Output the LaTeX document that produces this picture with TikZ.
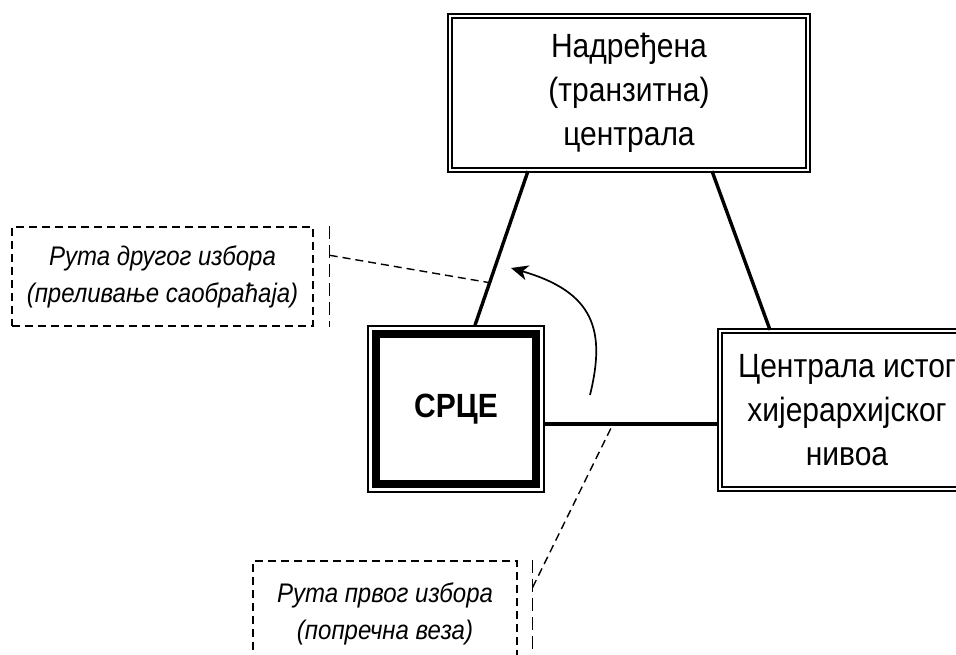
\documentclass[tikz,border=0pt]{standalone}
\usepackage{fontspec}
\usepackage{graphicx}
\setmainfont{Liberation Sans}
\usetikzlibrary{arrows.meta,calc}
\newcommand{\vtall}[1]{\scalebox{1}[1.12]{#1}}
\begin{document}
\begin{tikzpicture}[x=1pt,y=-1pt,
  dbl/.style={draw, line width=2.2pt, double=white, double distance=2.3pt, inner sep=0pt, align=center, font=\fontsize{30}{44}\selectfont},
  conn/.style={line width=3.4pt},
  callout/.style={draw, line width=1.4pt, dash pattern=on 8pt off 5pt, inner sep=0pt, align=center, font=\fontsize{24}{37}\selectfont\itshape},
  vbar/.style={line width=1.4pt, dash pattern=on 13pt off 6pt},
  leader/.style={line width=1.4pt, dash pattern=on 8pt off 5pt}]
\useasboundingbox (0,0) rectangle (956,655);
\clip (0,0) rectangle (956,655);
% main nodes
\node[dbl, minimum width=358pt, minimum height=154pt] (top) at (629,93) {\vtall{Надређена}\\\vtall{(транзитна)}\\\vtall{централа}};
\node[dbl, minimum width=254pt, minimum height=158pt] (same) at (847,410) {\vtall{Централа истог}\\\vtall{хијерархијског}\\\vtall{нивоа}};
\node[draw, line width=1.5pt, minimum width=176pt, minimum height=166pt, inner sep=0pt, font=\fontsize{30}{36}\selectfont\bfseries] (srce) at (456,409) {\vtall{СРЦЕ}};
\draw[line width=8pt] ([xshift=8.5pt,yshift=-8.5pt]srce.north west) rectangle ([xshift=-8.5pt,yshift=8.5pt]srce.south east);
% connectors
\coordinate (ta) at ([xshift=-101pt]top.south);
\coordinate (sa) at ([xshift=19pt]srce.north);
\coordinate (tb) at ([xshift=83pt]top.south);
\coordinate (sb) at ([xshift=-77pt]same.north);
\coordinate (ha) at ([yshift=-15pt]srce.east);
\coordinate (hb) at (ha -| same.west);
\draw[conn] (ta) -- (sa);
\draw[conn] (tb) -- (sb);
\draw[conn] (ha) -- (hb);
% curved arrow
\coordinate (arrS) at (590,395);
\coordinate (arrE) at (511,268);
\draw[line width=1.7pt, -{Stealth[length=17pt, width=15pt, inset=5pt]}] (arrS) .. controls (606,330) and (594,292) .. (arrE);
% callouts
\node[callout, minimum width=301pt, minimum height=99pt] (c1) at (162.5,276.5) {\vtall{Рута другог избора}\\\vtall{(преливање саобраћаја)}};
\draw[vbar] ([xshift=16pt]c1.north east) -- ([xshift=16pt]c1.south east);
\coordinate (c1p) at ([xshift=16pt,yshift=-29pt]c1.north east);
\coordinate (c1q) at ($(ta)!0.724!(sa)$);
\draw[leader] (c1p) -- (c1q);
\node[callout, minimum width=264pt, minimum height=106pt] (c2) at (385,614) {\vtall{Рута првог избора}\\\vtall{(попречна веза)}};
\draw[vbar] ([xshift=15pt]c2.north east) -- ([xshift=15pt]c2.south east);
\coordinate (c2p) at ([xshift=15pt,yshift=-27pt]c2.north east);
\coordinate (c2q) at (613,0 |- ha);
\draw[leader] (c2p) -- (c2q);
\end{tikzpicture}
\end{document}
